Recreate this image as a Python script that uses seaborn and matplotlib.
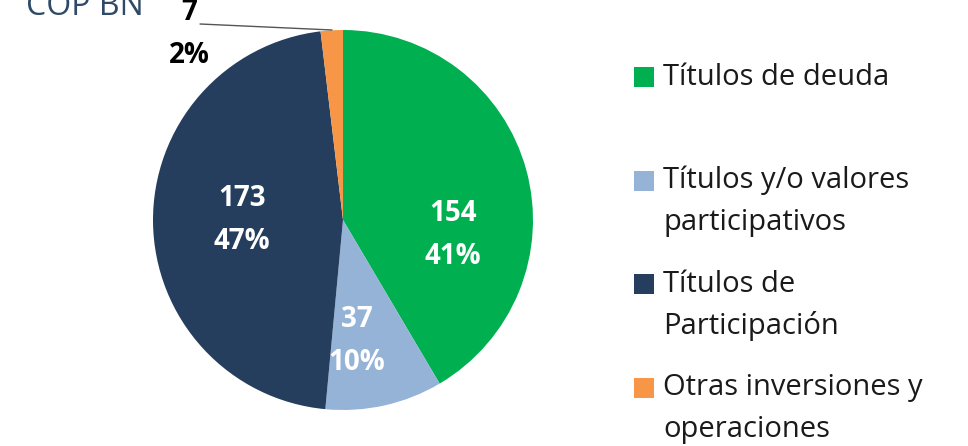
import matplotlib
matplotlib.use("Agg")
import matplotlib.pyplot as plt
import seaborn as sns
from matplotlib.patches import Rectangle

sns.set_theme(style="white")
plt.rcParams['font.family'] = ['Open Sans', 'DejaVu Sans']

categories = ["Títulos de deuda", "Títulos y/o valores\nparticipativos",
              "Títulos de\nParticipación", "Otras inversiones y\noperaciones"]
values = [154, 37, 173, 7]
percents = ["41%", "10%", "47%", "2%"]
colors = ["#00B050", "#95B3D7", "#253E5E", "#F79646"]
title = "COP BN"

W, H = 968, 446
fig = plt.figure(figsize=(W / 100, H / 100), dpi=100)
cx, cy, R = 343, 220, 190
ax = fig.add_axes([(cx - R) / W, (H - cy - R) / H, 2 * R / W, 2 * R / H])
wedges, _ = ax.pie(values, colors=colors, startangle=90, counterclock=False,
                   wedgeprops=dict(linewidth=0))
ax.set_xlim(-1, 1)
ax.set_ylim(-1, 1)
ax.set_aspect('equal')
ax.axis('off')

def d(px, py):
    return (px - cx) / R, (cy - py) / R

# inside labels (positions in pixels of the reference)
label_pos = [(453, 235), (357, 341), (242, 220)]
for i, (px, py) in enumerate(label_pos):
    x, y = d(px, py)
    ax.text(x, y, f"{values[i]}\n{percents[i]}", ha='center', va='center',
            color='white', fontsize=20, fontweight='bold', linespacing=1.6)

# outside label for small slice
x, y = d(189, 34)
ax.text(x, y, f"{values[3]}\n{percents[3]}", ha='center', va='center',
        color='black', fontsize=20, fontweight='bold', linespacing=1.6,
        clip_on=False)
x0, y0 = d(200, 24)
x1, y1 = d(332, 30)
ax.plot([x0, x1], [y0, y1], color='#555555', lw=1, clip_on=False)

# title (partly cut off at top, as in the reference)
fig.text(26 / W, 1 - 15 / H, title, ha='left', va='baseline', fontsize=23,
         color='#2F4A66')

# legend
sq_top = [67, 171, 274, 378]
base_y = [85, 188, 292, 395]
LINE = 42
for lab, col, st, by in zip(categories, colors, sq_top, base_y):
    fig.patches.append(Rectangle((634 / W, 1 - (st + 20) / H), 20 / W, 20 / H,
                                 transform=fig.transFigure, facecolor=col,
                                 edgecolor='none'))
    lines = lab.split("\n")
    for k, ln in enumerate(lines):
        fig.text(663 / W, 1 - (by + k * LINE) / H, ln, ha='left',
                 va='baseline', fontsize=21, color='#1a1a1a')

fig.savefig("out.png", dpi=100)
